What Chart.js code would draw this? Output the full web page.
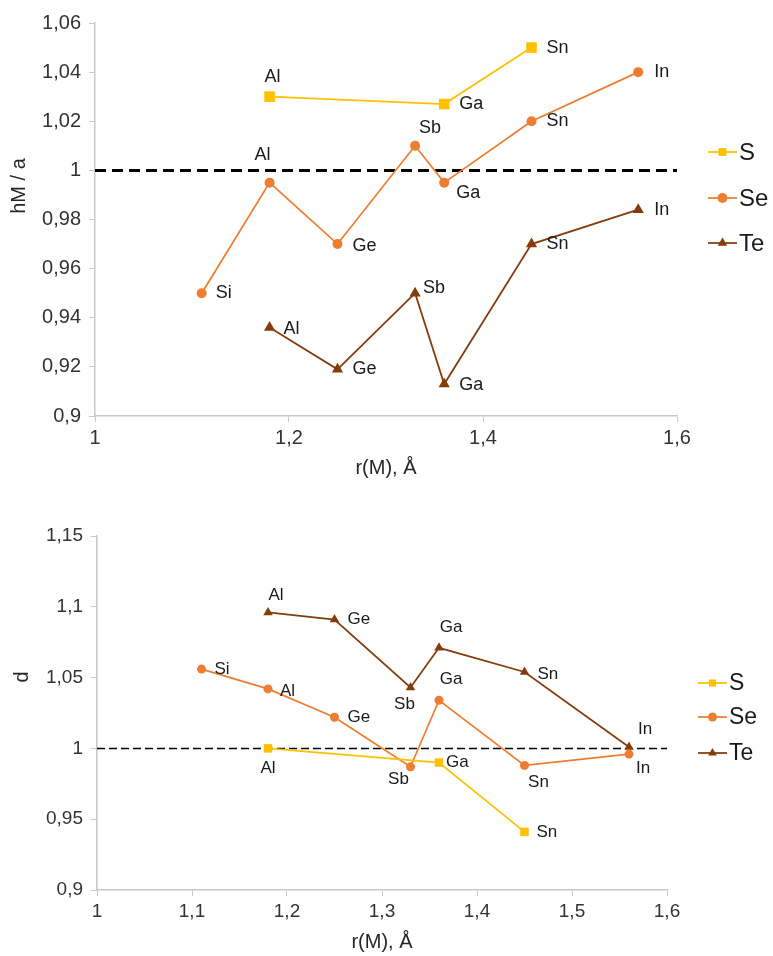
<!DOCTYPE html>
<html>
<head>
<meta charset="utf-8">
<script src="https://cdn.jsdelivr.net/npm/chart.js@4/dist/chart.umd.min.js"></script>
<style>
  body { margin: 0; background: #fff; }
  canvas { display: block; }
</style>
</head>
<body>
<canvas id="top" width="773" height="490"></canvas>
<canvas id="bottom" width="773" height="466"></canvas>
<script>
// element labels per series
const sEl = ['Al', 'Ga', 'Sn'];
const seEl = ['Si', 'Al', 'Ge', 'Sb', 'Ga', 'Sn', 'In'];
const teEl = ['Al', 'Ge', 'Sb', 'Ga', 'Sn', 'In'];

// r(M), Å
const sR = [1.18, 1.36, 1.45];
const seR = [1.11, 1.18, 1.25, 1.33, 1.36, 1.45, 1.56];
const teR = [1.18, 1.25, 1.33, 1.36, 1.45, 1.56];

// hM / a (top chart)
const sHa = [1.03, 1.027, 1.05];
const seHa = [0.95, 0.995, 0.97, 1.01, 0.995, 1.02, 1.04];
const teHa = [0.936, 0.919, 0.95, 0.913, 0.97, 0.984];

// d (bottom chart)
const sD = [1.0, 0.99, 0.941];
const seD = [1.056, 1.042, 1.022, 0.987, 1.034, 0.988, 0.996];
const teD = [1.096, 1.091, 1.043, 1.071, 1.054, 1.001];

// reference line y = 1
const refX = [1, 1.6];
const refY = [1, 1];

const colS = '#FFC000', colSe = '#ED7D31', colTe = '#843C0C';
const FONT = "'Liberation Sans', Arial, sans-serif";

const pts = (xs, ys) => xs.map((x, i) => ({ x: x, y: ys[i] }));
const fmt = v => String(+Number(v).toFixed(2)).replace('.', ',');

// label offsets [dx, dy, align]
const topOff = [
  [[3, -20, 'center'], [15, 0, 'left'], [15, 0, 'left']],
  [[14, 0, 'left'], [-7, -28, 'center'], [15, 2, 'left'], [15, -18, 'center'], [24, 10, 'center'], [15, 0, 'left'], [16, 0, 'left']],
  [[14, 1, 'left'], [15, 0, 'left'], [8, -5, 'left'], [15, 1, 'left'], [15, 0, 'left'], [16, 0, 'left']]
];
const botOff = [
  [[0, 20, 'center'], [7, 0, 'left'], [12, 0, 'left']],
  [[13, 0, 'left'], [12, 2, 'left'], [13, 0, 'left'], [-12, 13, 'center'], [12, -21, 'center'], [14, 17, 'center'], [14, 14, 'center']],
  [[8, -17, 'center'], [13, 0, 'left'], [-6, 17, 'center'], [12, -21, 'center'], [13, 2, 'left'], [16, -18, 'center']]
];

function makeExtras(cfg) {
  return {
    id: 'extras',
    afterDatasetsDraw(chart) {
      const ctx = chart.ctx;
      ctx.save();
      // point labels
      ctx.font = cfg.labelFont;
      ctx.fillStyle = '#1a1a1a';
      ctx.textBaseline = 'middle';
      cfg.names.forEach((names, i) => {
        const meta = chart.getDatasetMeta(i);
        names.forEach((name, j) => {
          const p = meta.data[j];
          const o = cfg.offsets[i][j];
          ctx.textAlign = o[2];
          ctx.fillText(name, p.x + o[0], p.y + o[1]);
        });
      });
      // y axis title
      ctx.save();
      ctx.font = cfg.yTitleFont;
      ctx.fillStyle = '#262626';
      ctx.textAlign = 'center';
      ctx.translate(cfg.yTitlePos[0], cfg.yTitlePos[1]);
      ctx.rotate(-Math.PI / 2);
      ctx.fillText(cfg.yTitle, 0, 0);
      ctx.restore();
      // legend
      const lg = cfg.legend;
      ['S', 'Se', 'Te'].forEach((name, i) => {
        const ds = chart.data.datasets[i];
        const y = lg.rows[i];
        ctx.strokeStyle = ds.borderColor;
        ctx.lineWidth = 1.75;
        ctx.beginPath();
        ctx.moveTo(lg.x1, y);
        ctx.lineTo(lg.x2, y);
        ctx.stroke();
        ctx.fillStyle = ds.pointBackgroundColor;
        Chart.helpers.drawPoint(ctx, {
          pointStyle: ds.pointStyle, radius: lg.radius[i], rotation: 0, borderWidth: 0
        }, (lg.x1 + lg.x2) / 2, y);
        ctx.fillStyle = '#1a1a1a';
        ctx.font = lg.font;
        ctx.textAlign = 'left';
        ctx.fillText(name, lg.tx, y + 1);
      });
      ctx.restore();
    }
  };
}

function series(label, data, color, style, radius) {
  return {
    label: label, data: data, borderColor: color, backgroundColor: color,
    pointBackgroundColor: color, pointBorderColor: color, pointBorderWidth: 0,
    pointStyle: style, pointRadius: radius, pointHoverRadius: radius,
    borderWidth: 1.75, tension: 0
  };
}

function makeChart(id, o) {
  return new Chart(document.getElementById(id), {
    type: 'line',
    data: {
      datasets: [
        series('S', pts(sR, o.s), colS, 'rect', o.r[0]),
        series('Se', pts(seR, o.se), colSe, 'circle', o.r[1]),
        series('Te', pts(teR, o.te), colTe, 'triangle', o.r[2]),
        {
          label: 'ref', data: pts(refX, refY), borderColor: '#000', borderWidth: o.refWidth,
          borderDash: o.refDash, pointRadius: 0, pointHoverRadius: 0
        }
      ]
    },
    options: {
      responsive: false,
      animation: false,
      layout: { padding: { left: 0, right: o.padRight, top: o.padTop, bottom: 0 } },
      plugins: { legend: { display: false }, tooltip: { enabled: false } },
      scales: {
        x: {
          type: 'linear', min: 1, max: 1.6,
          border: { color: '#c8c8c8', width: 1.5 },
          grid: { drawOnChartArea: false, color: '#c8c8c8', tickLength: 6 },
          ticks: { stepSize: o.xStep, padding: 4, color: '#333', font: { family: FONT, size: o.tickSize }, callback: fmt },
          afterFit: s => { s.height = o.xHeight; },
          title: { display: true, text: 'r(M), Å', color: '#262626', font: { family: FONT, size: 20 }, padding: { top: 4, bottom: o.xTitlePad } }
        },
        y: {
          min: o.yMin, max: o.yMax,
          border: { color: '#c8c8c8', width: 1.5 },
          grid: { drawOnChartArea: false, color: '#c8c8c8', tickLength: 6 },
          ticks: { stepSize: o.yStep, padding: 8, color: '#333', font: { family: FONT, size: o.tickSize }, callback: fmt },
          afterFit: s => { s.width = o.yWidth; }
        }
      }
    },
    plugins: [makeExtras(o.extras)]
  });
}

makeChart('top', {
  s: sHa, se: seHa, te: teHa, r: [7.5, 5, 6.5],
  refWidth: 3, refDash: [11, 6],
  padRight: 96, padTop: 23, xHeight: 74, yWidth: 95, xStep: 0.2,
  yMin: 0.9, yMax: 1.06, yStep: 0.02, tickSize: 20, xTitlePad: 10,
  extras: {
    names: [sEl, seEl, teEl], offsets: topOff, labelFont: '18px ' + FONT,
    yTitle: 'hM / a', yTitleFont: '20px ' + FONT, yTitlePos: [19, 186],
    legend: { x1: 708, x2: 737, tx: 739, rows: [152, 198, 243], radius: [5.5, 5, 5.5], font: '24px ' + FONT }
  }
});

makeChart('bottom', {
  s: sD, se: seD, te: teD, r: [6, 4.5, 5.5],
  refWidth: 1.5, refDash: [8, 4],
  padRight: 106, padTop: 46, xHeight: 66, yWidth: 97, xStep: 0.1,
  yMin: 0.9, yMax: 1.15, yStep: 0.05, tickSize: 19, xTitlePad: 2,
  extras: {
    names: [sEl, seEl, teEl], offsets: botOff, labelFont: '17px ' + FONT,
    yTitle: 'd', yTitleFont: '20px ' + FONT, yTitlePos: [22, 187],
    legend: { x1: 698, x2: 727, tx: 729, rows: [193, 227, 263], radius: [5, 4.5, 5], font: '23px ' + FONT }
  }
});
</script>
</body>
</html>
